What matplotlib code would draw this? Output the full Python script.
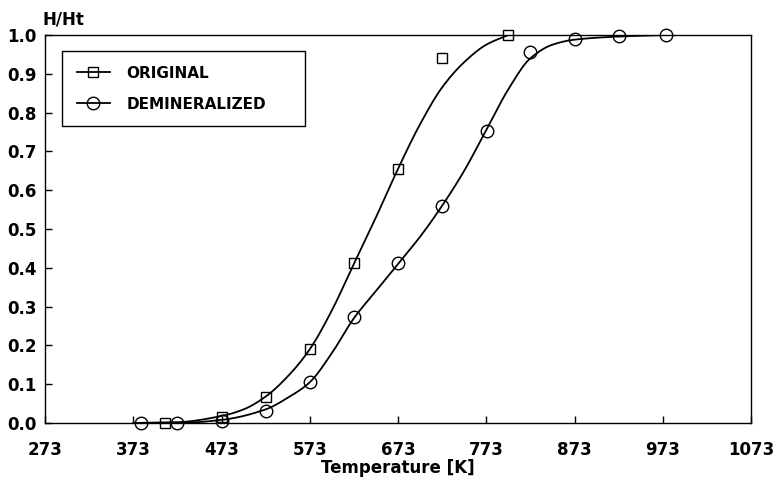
import numpy as np
import matplotlib
matplotlib.use('Agg')
import matplotlib.pyplot as plt

# measured points
orig_T = [409, 473, 523, 573, 623, 673, 723, 798]
orig_H = [0.0, 0.015, 0.068, 0.19, 0.412, 0.655, 0.94, 1.0]

demin_T = [382, 423, 473, 523, 573, 623, 673, 723, 774, 823, 873, 923, 977]
demin_H = [0.0, 0.0, 0.005, 0.031, 0.105, 0.272, 0.412, 0.559, 0.753, 0.956, 0.99, 0.997, 1.0]

# fitted curves
orig_fit_T = [373, 423, 473, 498, 523, 548, 573, 598, 623, 648, 673, 698, 723, 748, 773, 798]
orig_fit_H = [0.0, 0.002, 0.018, 0.035, 0.068, 0.12, 0.19, 0.29, 0.41, 0.53, 0.655, 0.77, 0.865, 0.93, 0.975, 1.0]

demin_fit_T = [382, 423, 473, 523, 548, 573, 598, 623, 648, 673, 698, 723, 748, 773, 798, 823, 848, 873, 923, 977]
demin_fit_H = [0.0, 0.0, 0.008, 0.035, 0.065, 0.105, 0.18, 0.27, 0.34, 0.41, 0.48, 0.56, 0.65, 0.755, 0.86, 0.94, 0.975, 0.988, 0.996, 1.0]

x_ticks = [273, 373, 473, 573, 673, 773, 873, 973, 1073]
y_ticks = [0.0, 0.1, 0.2, 0.3, 0.4, 0.5, 0.6, 0.7, 0.8, 0.9, 1.0]


def pchip(x, y, n=400):
    """monotone cubic for a smooth line through the read points"""
    x = np.asarray(x, float)
    y = np.asarray(y, float)
    h = np.diff(x)
    d = np.diff(y) / h
    m = np.zeros_like(y)
    for k in range(1, len(x) - 1):
        if d[k - 1] * d[k] > 0:
            w1 = 2 * h[k] + h[k - 1]
            w2 = h[k] + 2 * h[k - 1]
            m[k] = (w1 + w2) / (w1 / d[k - 1] + w2 / d[k])
    m[0] = d[0]
    m[-1] = d[-1]
    xs = np.linspace(x[0], x[-1], n)
    idx = np.clip(np.searchsorted(x, xs) - 1, 0, len(x) - 2)
    t = (xs - x[idx]) / h[idx]
    h00 = 2 * t**3 - 3 * t**2 + 1
    h10 = t**3 - 2 * t**2 + t
    h01 = -2 * t**3 + 3 * t**2
    h11 = t**3 - t**2
    ys = h00 * y[idx] + h10 * h[idx] * m[idx] + h01 * y[idx + 1] + h11 * h[idx] * m[idx + 1]
    return xs, ys


plt.rcParams['font.family'] = ['DejaVu Sans']
plt.rcParams['font.weight'] = 'bold'

fig = plt.figure(figsize=(7.77, 4.88), dpi=100)
ax = fig.add_axes([45 / 777, 1 - 423 / 488, 706 / 777, 388 / 488])

lw = 1.3
xs, ys = pchip(orig_fit_T, orig_fit_H)
ax.plot(xs, ys, color='black', lw=lw)
xs, ys = pchip(demin_fit_T, demin_fit_H)
ax.plot(xs, ys, color='black', lw=lw)

ax.plot(orig_T, orig_H, 's', ms=7.5, mfc='none', mec='black', mew=1.0, clip_on=False)
ax.plot(demin_T, demin_H, 'o', ms=9, mfc='none', mec='black', mew=1.0, clip_on=False)

# legend handles
h1, = ax.plot([], [], '-s', color='black', lw=lw, ms=7.5, mfc='none', mew=1.0)
h2, = ax.plot([], [], '-o', color='black', lw=lw, ms=9, mfc='none', mew=1.0)
leg = ax.legend([h1, h2], ['ORIGINAL', 'DEMINERALIZED'], loc='upper left',
                bbox_to_anchor=(17 / 706, 1 - 16 / 388 - 0.01, 243 / 706, 0.01),
                mode='expand', borderaxespad=0, fancybox=False,
                edgecolor='black', framealpha=1, fontsize=11, handlelength=2.2,
                labelspacing=1.05, borderpad=0.95, handletextpad=1.05)
leg.get_frame().set_linewidth(1.0)

ax.set_xlim(273, 1073)
ax.set_ylim(0, 1.0)
ax.set_xticks(x_ticks)
ax.set_yticks(y_ticks)
ax.set_xticklabels([str(t) for t in x_ticks])
ax.set_yticklabels([f'{t:.1f}' for t in y_ticks])
ax.tick_params(direction='in', length=5, width=1, labelsize=12)
ax.tick_params(axis='x', pad=13)
ax.tick_params(axis='y', pad=6)
for s in ax.spines.values():
    s.set_linewidth(1.0)

ax.set_xlabel('Temperature [K]', fontsize=12, fontweight='bold', labelpad=0)
fig.text(43 / 777, 1 - 19 / 488, 'H/Ht', fontsize=12, fontweight='bold', ha='left', va='center')

fig.savefig('out.png', dpi=100)
